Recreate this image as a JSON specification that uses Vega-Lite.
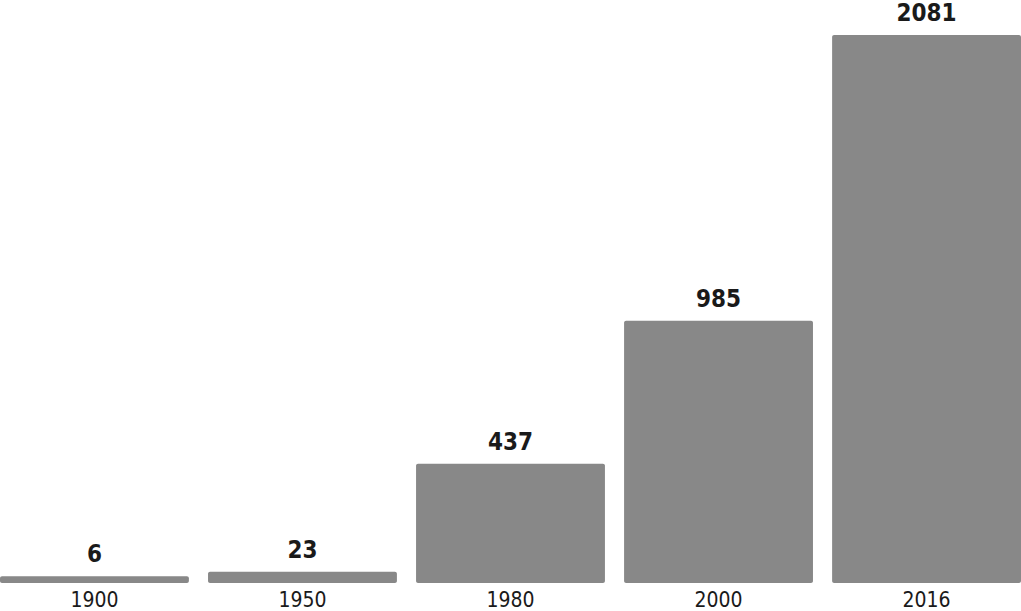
{
  "$schema": "https://vega.github.io/schema/vega-lite/v6.json",
  "width": 1021,
  "height": 583,
  "autosize": {"type": "none"},
  "padding": {"top": 0, "left": 0, "right": 0, "bottom": 28},
  "background": "white",
  "config": {"view": {"stroke": null}},
  "data": {"values": [
    {"year": "1900", "value": 6},
    {"year": "1950", "value": 23},
    {"year": "1980", "value": 437},
    {"year": "2000", "value": 985},
    {"year": "2016", "value": 2081}
  ]},
  "encoding": {
    "x": {"field": "year", "type": "nominal", "sort": null,
      "scale": {"paddingInner": 0.092, "paddingOuter": 0},
      "axis": {"title": null, "labelAngle": 0, "ticks": false, "domain": false,
        "labelFont": "DejaVu Sans Condensed", "labelFontSize": 21, "labelColor": "#1a1a1a",
        "labelPadding": 6, "labelFontWeight": "normal"}}
  },
  "layer": [
    {
      "mark": {"type": "bar", "color": "#888888", "cornerRadius": 2},
      "encoding": {
        "y": {"field": "value", "type": "quantitative",
          "scale": {"domain": [-20, 2215], "nice": false, "zero": false},
          "axis": null},
        "y2": {"datum": -20}
      }
    },
    {
      "mark": {"type": "text", "font": "DejaVu Sans Condensed", "fontWeight": "bold",
        "fontSize": 24, "color": "#1a1a1a", "baseline": "alphabetic", "dy": -14},
      "encoding": {
        "y": {"field": "value", "type": "quantitative"},
        "text": {"field": "value", "type": "quantitative"}
      }
    }
  ]
}
